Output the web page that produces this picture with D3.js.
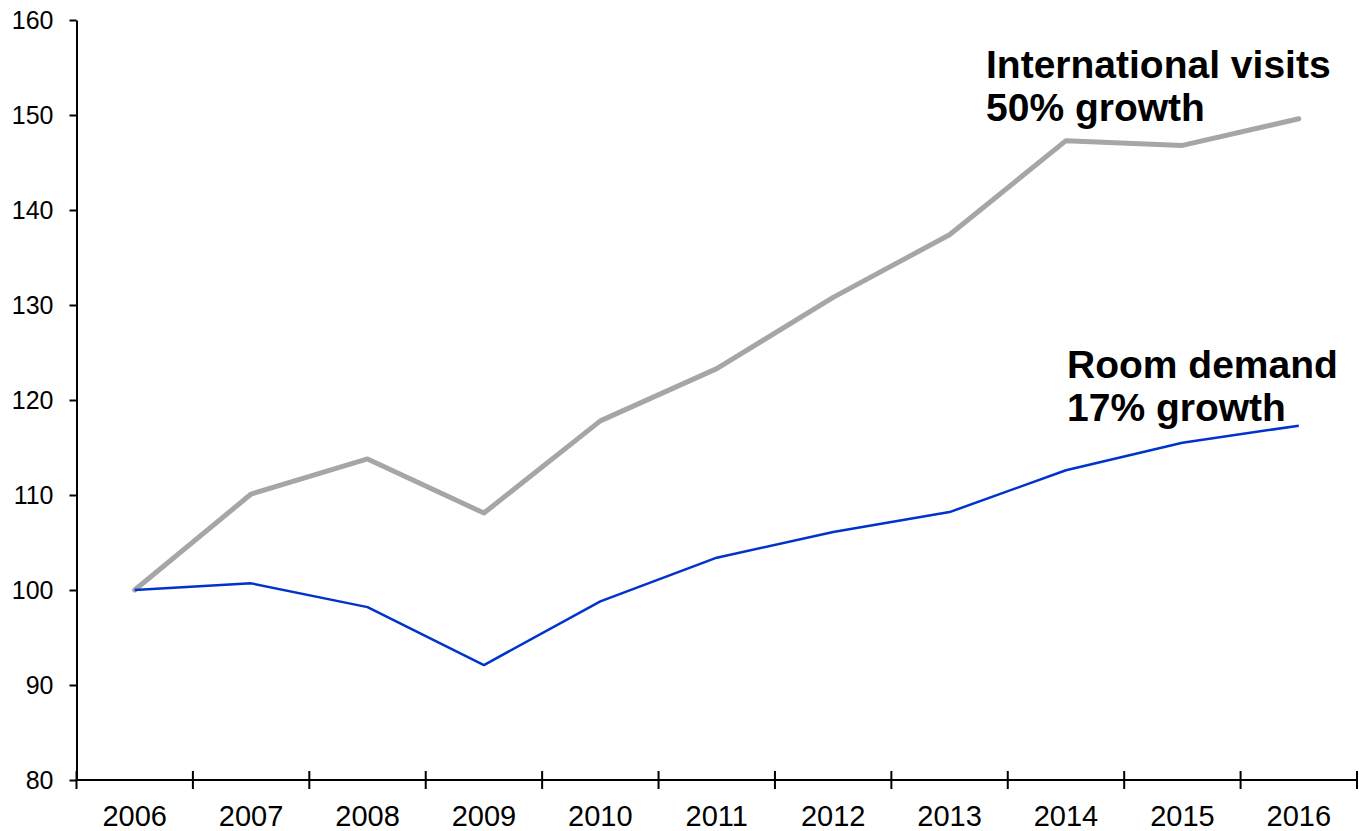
<!DOCTYPE html>
<html>
<head>
<meta charset="utf-8">
<script src="https://cdn.jsdelivr.net/npm/d3@7"></script>
<style>
  html, body { margin: 0; padding: 0; background: #fff; }
  svg { display: block; font-family: "Liberation Sans", Arial, sans-serif; }
</style>
</head>
<body>
<svg id="chart" width="1359" height="831"></svg>
<script>
// Index, 2006 = 100
const years = ["2006", "2007", "2008", "2009", "2010", "2011", "2012", "2013", "2014", "2015", "2016"];
const internationalVisits = [100, 110.1, 113.8, 108.1, 117.8, 123.3, 130.8, 137.4, 147.3, 146.8, 149.6];
const roomDemand = [100, 100.7, 98.2, 92.1, 98.8, 103.4, 106.1, 108.2, 112.6, 115.5, 117.3];
const yTicks = [80, 90, 100, 110, 120, 130, 140, 150, 160];
const labelVisits = ["International visits", "50% growth"];
const labelDemand = ["Room demand", "17% growth"];

const svg = d3.select("#chart");
const margin = { left: 76.5, right: 2, top: 20, bottom: 51 };
const W = 1359, H = 831;

const x = d3.scaleBand().domain(years).range([margin.left, W - margin.right]).padding(0);
const y = d3.scaleLinear().domain([80, 160]).range([H - margin.bottom, margin.top]);

// Y axis
const yAxis = svg.append("g")
  .attr("transform", `translate(${margin.left},0)`)
  .call(d3.axisLeft(y).tickValues(yTicks).tickSize(7).tickPadding(16).tickSizeOuter(0));
yAxis.selectAll("text").attr("font-size", 25).attr("fill", "#000").style("font-family", "Liberation Sans, Arial, sans-serif");
yAxis.selectAll("line, path").attr("stroke", "#000").attr("stroke-width", 2);

// X axis: ticks at category boundaries, crossing the axis line
const xAxisY = y(80);
const xg = svg.append("g");
xg.append("line")
  .attr("x1", x.range()[0]).attr("x2", x.range()[1])
  .attr("y1", xAxisY).attr("y2", xAxisY)
  .attr("stroke", "#000").attr("stroke-width", 2);
const boundaries = years.map(d => x(d)).concat([x(years[years.length - 1]) + x.bandwidth()]);
xg.selectAll("line.tick").data(boundaries).join("line")
  .attr("class", "tick")
  .attr("x1", d => d).attr("x2", d => d)
  .attr("y1", xAxisY - 9).attr("y2", xAxisY + 9)
  .attr("stroke", "#000").attr("stroke-width", 2);
xg.selectAll("text").data(years).join("text")
  .attr("x", d => x(d) + x.bandwidth() / 2)
  .attr("y", xAxisY + 46)
  .attr("text-anchor", "middle")
  .attr("font-size", 29)
  .attr("fill", "#000")
  .text(d => d);

// Lines
const line = d3.line()
  .x((d, i) => x(years[i]) + x.bandwidth() / 2)
  .y(d => y(d));

svg.append("path")
  .datum(internationalVisits)
  .attr("d", line)
  .attr("fill", "none")
  .attr("stroke", "#a6a6a6")
  .attr("stroke-width", 5)
  .attr("stroke-linejoin", "round")
  .attr("stroke-linecap", "round");

svg.append("path")
  .datum(roomDemand)
  .attr("d", line)
  .attr("fill", "none")
  .attr("stroke", "#0033cc")
  .attr("stroke-width", 2.5)
  .attr("stroke-linejoin", "round");

// Annotations
function annotate(lines, xPos, yPos) {
  const t = svg.append("text")
    .attr("x", xPos).attr("y", yPos)
    .attr("font-size", 39).attr("font-weight", "bold").attr("fill", "#000");
  lines.forEach((s, i) => {
    t.append("tspan").attr("x", xPos).attr("dy", i === 0 ? 0 : 43).text(s);
  });
}
annotate(labelVisits, 986, 78);
annotate(labelDemand, 1067, 378);
</script>
</body>
</html>
